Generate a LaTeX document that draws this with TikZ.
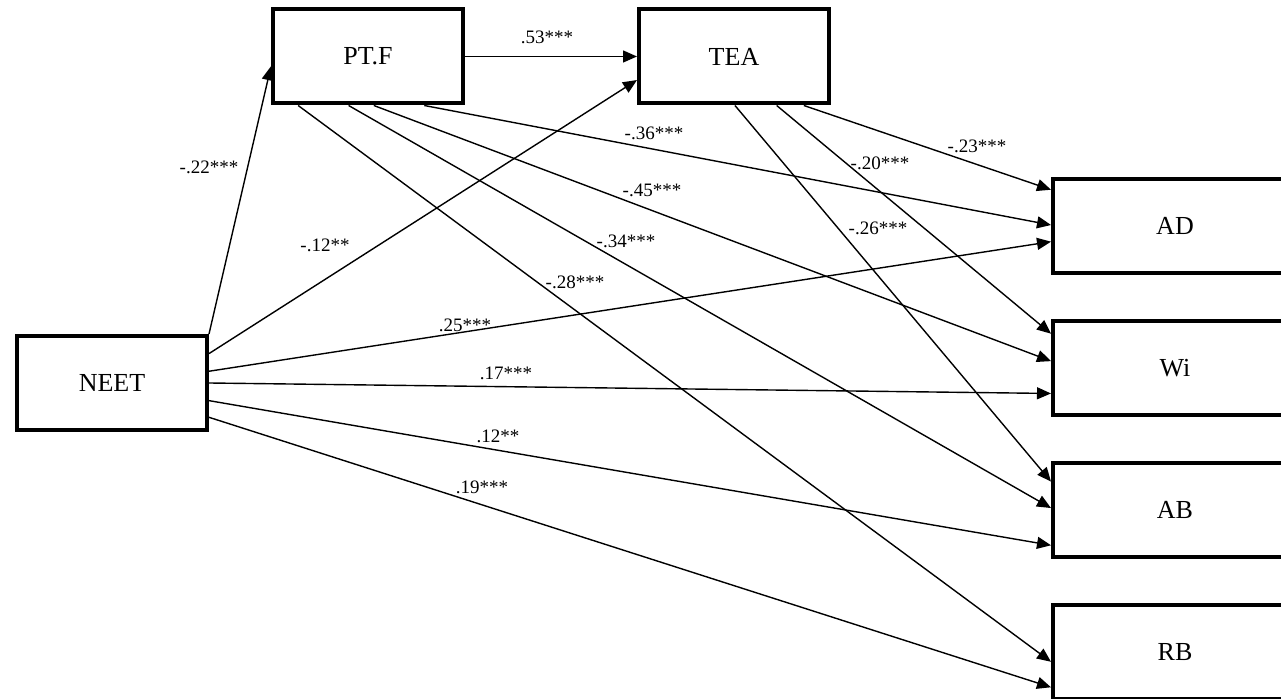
\documentclass[tikz,border=0pt]{standalone}
\usepackage{fontspec}
\setmainfont{Liberation Serif}
\usetikzlibrary{arrows.meta,positioning,calc}

\begin{document}
\begin{tikzpicture}[
  x=0.5pt, y=-0.5pt,
  node distance=22pt and 86pt,
  box/.style={draw, line width=2pt, minimum width=95pt, minimum height=47pt, inner sep=0pt, font=\fontsize{13}{15}\selectfont},
  outbox/.style={box, minimum width=122pt},
  arr/.style={-{Triangle[length=7pt, width=6pt]}, line width=0.7pt},
  coef/.style={inner sep=0pt, font=\fontsize{9.5}{11}\selectfont}
]
\useasboundingbox (0,0) rectangle (1281,699);
\node[box] (neet) at (112,383) {NEET};
\node[box] (ptf) at (368,56.5) {PT.F};
\node[box, right=of ptf] (tea) {TEA};
\node[outbox] (ad) at (1175,226) {AD};
\node[outbox, below=of ad] (wi) {Wi};
\node[outbox, below=of wi] (ab) {AB};
\node[outbox, below=of ab] (rb) {RB};

\draw[arr] (neet.north east) -- ($(ptf.north west)!0.6!(ptf.south west)$);
\draw[arr] (ptf.east) -- (tea.west);
\draw[arr] ($(neet.north east)!0.2!(neet.south east)$) -- ($(tea.north west)!0.74!(tea.south west)$);
\draw[arr] ($(neet.north east)!0.38!(neet.south east)$) -- ($(ad.north west)!0.66!(ad.south west)$);
\draw[arr] (neet.east) -- ($(wi.north west)!0.76!(wi.south west)$);
\draw[arr] ($(neet.north east)!0.68!(neet.south east)$) -- ($(ab.north west)!0.86!(ab.south west)$);
\draw[arr] ($(neet.north east)!0.85!(neet.south east)$) -- ($(rb.north west)!0.86!(rb.south west)$);
\draw[arr] ($(ptf.south west)!0.14!(ptf.south east)$) -- ($(rb.north west)!0.6!(rb.south west)$);
\draw[arr] ($(ptf.south west)!0.40!(ptf.south east)$) -- ($(ab.north west)!0.48!(ab.south west)$);
\draw[arr] ($(ptf.south west)!0.53!(ptf.south east)$) -- ($(wi.north west)!0.43!(wi.south west)$);
\draw[arr] ($(ptf.south west)!0.79!(ptf.south east)$) -- ($(ad.north west)!0.49!(ad.south west)$);
\draw[arr] ($(tea.south west)!0.505!(tea.south east)$) -- ($(ab.north west)!0.21!(ab.south west)$);
\draw[arr] ($(tea.south west)!0.72!(tea.south east)$) -- ($(wi.north west)!0.15!(wi.south west)$);
\draw[arr] ($(tea.south west)!0.86!(tea.south east)$) -- ($(ad.north west)!0.13!(ad.south west)$);

\node[coef] (c-neet-ptf) at (209,167) {-.22***};
\node[coef] (c-ptf-tea) at (547,37) {.53***};
\node[coef] (c-neet-tea) at (325,245) {-.12**};
\node[coef] (c-neet-ad) at (465,325) {.25***};
\node[coef] (c-neet-wi) at (506,373) {.17***};
\node[coef] (c-neet-ab) at (498,436) {.12**};
\node[coef] (c-neet-rb) at (482,487) {.19***};
\node[coef] (c-ptf-rb) at (575,282) {-.28***};
\node[coef] (c-ptf-ab) at (626,241) {-.34***};
\node[coef] (c-ptf-wi) at (652,190) {-.45***};
\node[coef] (c-ptf-ad) at (654,133) {-.36***};
\node[coef] (c-tea-ab) at (878,228) {-.26***};
\node[coef] (c-tea-wi) at (880,163) {-.20***};
\node[coef] (c-tea-ad) at (977,146) {-.23***};
\end{tikzpicture}
\end{document}
